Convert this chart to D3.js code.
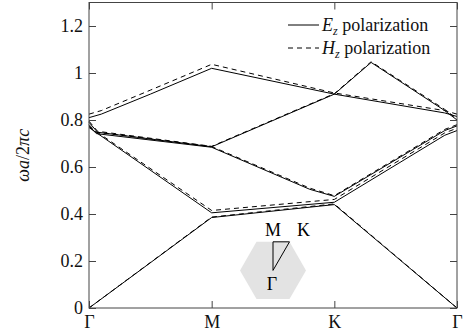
<!DOCTYPE html>
<html>
<head>
<meta charset="utf-8">
<script src="https://cdn.jsdelivr.net/npm/d3@7"></script>
<style>
  body { margin: 0; background: #fff; }
  svg { display: block; }
  svg text { font-family: "Liberation Serif", "Times New Roman", serif; }
</style>
</head>
<body>
<svg id="chart" width="463" height="334"></svg>
<script>
// high symmetry points along the path
const kTicks = [0, 1, 2, 3];
const kLabels = ['Γ', 'M', 'K', 'Γ'];
const yTicks = [0, 0.2, 0.4, 0.6, 0.8, 1, 1.2];
const yTickLabels = ['0', '0.2', '0.4', '0.6', '0.8', '1', '1.2'];

// E_z polarization bands, [k, ωa/2πc]
const ez1 = [[0, 0], [1, 0.385], [2, 0.44], [3, 0]];
const ez2 = [[0, 0.768], [1, 0.405], [2, 0.45], [2.9, 0.735], [3, 0.755]];
const ez3 = [[0, 0.775], [0.06, 0.742], [1, 0.684], [1.8, 0.505], [2, 0.475], [2.9, 0.755], [3, 0.775]];
const ez4 = [[0, 0.79], [0.07, 0.748], [1, 0.686], [2, 0.91], [2.3, 1.045], [2.9, 0.84], [3, 0.8]];
const ez5 = [[0, 0.81], [0.1, 0.825], [0.5, 0.91], [1, 1.02], [2, 0.91], [2.9, 0.83], [3, 0.815]];

// H_z polarization bands
const hz1 = [[0, 0], [1, 0.387], [2, 0.443], [3, 0]];
const hz2 = [[0, 0.772], [1, 0.415], [2, 0.462], [2.9, 0.745], [3, 0.765]];
const hz3 = [[0, 0.78], [0.06, 0.748], [1, 0.687], [1.8, 0.51], [2, 0.478], [2.9, 0.76], [3, 0.78]];
const hz4 = [[0, 0.795], [0.07, 0.752], [1, 0.688], [2, 0.912], [2.3, 1.048], [2.9, 0.845], [3, 0.805]];
const hz5 = [[0, 0.825], [0.1, 0.84], [0.5, 0.927], [1, 1.037], [2, 0.915], [2.9, 0.84], [3, 0.825]];

const ezBands = [ez1, ez2, ez3, ez4, ez5];
const hzBands = [hz1, hz2, hz3, hz4, hz5];

const plotLeft = 89, plotRight = 457, plotTop = 2.5, plotBottom = 308;
const tickLen = 7;
const fontSize = 18;

const svg = d3.select('#chart');

const x = d3.scaleLinear().domain([0, 3]).range([plotLeft, plotRight]);
const y = d3.scaleLinear().domain([0, 1.3]).range([plotBottom, plotTop]);

// brillouin zone inset (hexagon + irreducible wedge)
const insetK = 1.5, insetW = 0.16, insetR = 33;
const cx = x(insetK), cy = y(insetW);
const hex = d3.range(6).map(i => {
  const a = i * Math.PI / 3;
  return [cx + insetR * Math.cos(a), cy - insetR * Math.sin(a)];
});
svg.append('polygon')
  .attr('points', hex.map(p => p.join(',')).join(' '))
  .attr('fill', '#e3e3e3');

const mPt = [cx, cy - insetR * Math.sin(Math.PI / 3)];
const kPt = hex[1];
svg.append('polygon')
  .attr('points', [[cx, cy], mPt, kPt].map(p => p.join(',')).join(' '))
  .attr('fill', 'none')
  .attr('stroke', '#000')
  .attr('stroke-width', 1);

svg.append('text').attr('x', mPt[0]).attr('y', mPt[1] - 6)
  .attr('text-anchor', 'middle').attr('font-size', fontSize).text('M');
svg.append('text').attr('x', kPt[0] + 14).attr('y', mPt[1] - 6)
  .attr('text-anchor', 'middle').attr('font-size', fontSize).text('K');
svg.append('text').attr('x', cx - 1).attr('y', cy + 20)
  .attr('text-anchor', 'middle').attr('font-size', fontSize).text('Γ');

// bands
const line = d3.line()
  .x(d => x(d[0]))
  .y(d => y(d[1]));

svg.append('g')
  .selectAll('path')
  .data(ezBands)
  .enter()
  .append('path')
  .attr('d', line)
  .attr('fill', 'none')
  .attr('stroke', '#000')
  .attr('stroke-width', 1);

svg.append('g')
  .selectAll('path')
  .data(hzBands)
  .enter()
  .append('path')
  .attr('d', line)
  .attr('fill', 'none')
  .attr('stroke', '#000')
  .attr('stroke-width', 1)
  .attr('stroke-dasharray', '5,4');

// axes, ticks pointing inwards on all sides
const axisColor = '#444';

const yLeft = svg.append('g')
  .attr('transform', 'translate(' + plotLeft + ',0)')
  .call(d3.axisLeft(y).tickValues(yTicks).tickSize(-tickLen).tickPadding(6)
    .tickFormat((d, i) => yTickLabels[i]));
const yRight = svg.append('g')
  .attr('transform', 'translate(' + plotRight + ',0)')
  .call(d3.axisRight(y).tickValues(yTicks).tickSize(-tickLen).tickFormat(''));
const xBottom = svg.append('g')
  .attr('transform', 'translate(0,' + plotBottom + ')')
  .call(d3.axisBottom(x).tickValues(kTicks).tickSize(-tickLen).tickPadding(7)
    .tickFormat((d, i) => kLabels[i]));
const xTop = svg.append('g')
  .attr('transform', 'translate(0,' + plotTop + ')')
  .call(d3.axisTop(x).tickValues(kTicks).tickSize(-tickLen).tickFormat(''));

[yLeft, yRight, xBottom, xTop].forEach(g => {
  g.attr('font-family', null).attr('font-size', fontSize);
  g.select('.domain').remove();
  g.selectAll('.tick line').attr('stroke', axisColor);
  g.selectAll('.tick text').attr('fill', '#111');
});

svg.append('rect')
  .attr('x', plotLeft).attr('y', plotTop)
  .attr('width', plotRight - plotLeft).attr('height', plotBottom - plotTop)
  .attr('fill', 'none')
  .attr('stroke', axisColor)
  .attr('stroke-width', 1);

// y label
const yLabel = svg.append('text')
  .attr('transform', 'translate(29,' + ((plotTop + plotBottom) / 2) + ') rotate(-90)')
  .attr('text-anchor', 'middle')
  .attr('font-size', fontSize)
  .attr('fill', '#111');
yLabel.append('tspan').attr('font-style', 'italic').text('ωa');
yLabel.append('tspan').text('/2');
yLabel.append('tspan').attr('font-style', 'italic').text('πc');

// legend
const legendRows = [
  { sym: 'E', dash: null, yPos: 25 },
  { sym: 'H', dash: '5,4', yPos: 48 }
];
const legend = svg.append('g');
legendRows.forEach(r => {
  legend.append('line')
    .attr('x1', 288).attr('x2', 319)
    .attr('y1', r.yPos).attr('y2', r.yPos)
    .attr('stroke', '#000')
    .attr('stroke-width', 1)
    .attr('stroke-dasharray', r.dash);
  const t = legend.append('text')
    .attr('x', 322).attr('y', r.yPos + 6)
    .attr('font-size', fontSize)
    .attr('fill', '#111');
  t.append('tspan').attr('font-style', 'italic').text(r.sym);
  t.append('tspan').attr('font-style', 'italic').attr('font-size', 12).attr('dy', 4).text('z');
  t.append('tspan').attr('dy', -4).text(' polarization');
});
</script>
</body>
</html>
